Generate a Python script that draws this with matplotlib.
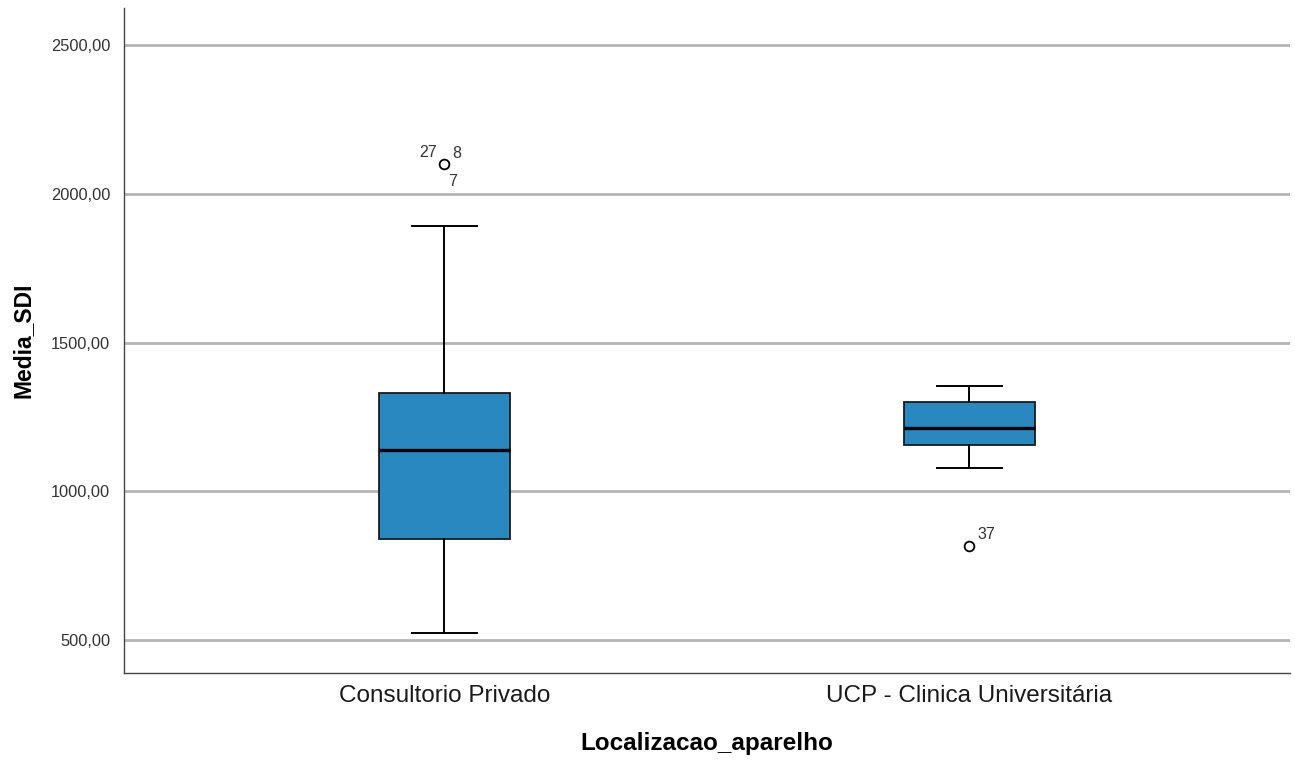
import matplotlib
matplotlib.use("Agg")
import matplotlib.pyplot as plt

# ── Data ──────────────────────────────────────────────────────────────────────
categories = ["Consultorio Privado", "UCP - Clinica Universitária"]
whisker_lo = [523, 1077]
q1 = [839, 1157]
median = [1140, 1214]
q3 = [1331, 1301]
whisker_hi = [1893, 1355]
outliers = [[2100], [816]]
outlier_ids = [["27", "8", "7"], ["37"]]
yticks = [500, 1000, 1500, 2000, 2500]

plt.rcParams["font.family"] = ["Liberation Sans", "DejaVu Sans"]

fig = plt.figure(figsize=(12.95, 7.65), dpi=100)
ax = fig.add_axes([0.0958, 0.1203, 0.9002, 0.8692])

stats = []
for i in range(len(categories)):
    stats.append(dict(med=median[i], q1=q1[i], q3=q3[i],
                      whislo=whisker_lo[i], whishi=whisker_hi[i],
                      fliers=outliers[i], label=categories[i]))

ax.bxp(stats, positions=range(len(categories)), widths=0.25, patch_artist=True,
       boxprops=dict(facecolor="#2a88c0", edgecolor="#1a1a1a", linewidth=1.3),
       medianprops=dict(color="black", linewidth=2.4),
       whiskerprops=dict(color="black", linewidth=1.4),
       capprops=dict(color="black", linewidth=1.4),
       capwidths=0.125,
       flierprops=dict(marker="o", markerfacecolor="white", markeredgecolor="black",
                       markersize=7, markeredgewidth=1.3),
       zorder=3)

# outlier case labels
lab = dict(fontsize=11.5, color="#333333", textcoords="offset points")
x0, y0 = 0, outliers[0][0]
ax.annotate(outlier_ids[0][0], (x0, y0), xytext=(-18, 5), **lab)
ax.annotate(outlier_ids[0][1], (x0, y0), xytext=(6, 4), **lab)
ax.annotate(outlier_ids[0][2], (x0, y0), xytext=(3, -16), **lab)
ax.annotate(outlier_ids[1][0], (1, outliers[1][0]), xytext=(6, 5), **lab)

ax.set_xlim(-0.61, 1.61)
ax.set_ylim(390, 2624)
ax.set_yticks(yticks)
ax.set_yticklabels([f"{v:.2f}".replace(".", ",") for v in yticks], fontsize=11.8, color="#333333")
ax.set_xticks(range(len(categories)))
ax.set_xticklabels(categories, fontsize=17.5, color="#1a1a1a")
ax.tick_params(length=0)
ax.tick_params(axis="x", pad=9)
ax.tick_params(axis="y", pad=10)
ax.grid(axis="y", color="#b4b4b4", linewidth=2, zorder=0)
ax.set_axisbelow(True)

for s in ["top", "right"]:
    ax.spines[s].set_visible(False)
for s in ["left", "bottom"]:
    ax.spines[s].set_color("#444444")
    ax.spines[s].set_linewidth(1)

ax.set_ylabel("Media_SDI", fontsize=16.5, fontweight="bold", labelpad=12)
ax.set_xlabel("Localizacao_aparelho", fontsize=17.5, fontweight="bold", labelpad=18)

fig.savefig("out.png", dpi=100)
